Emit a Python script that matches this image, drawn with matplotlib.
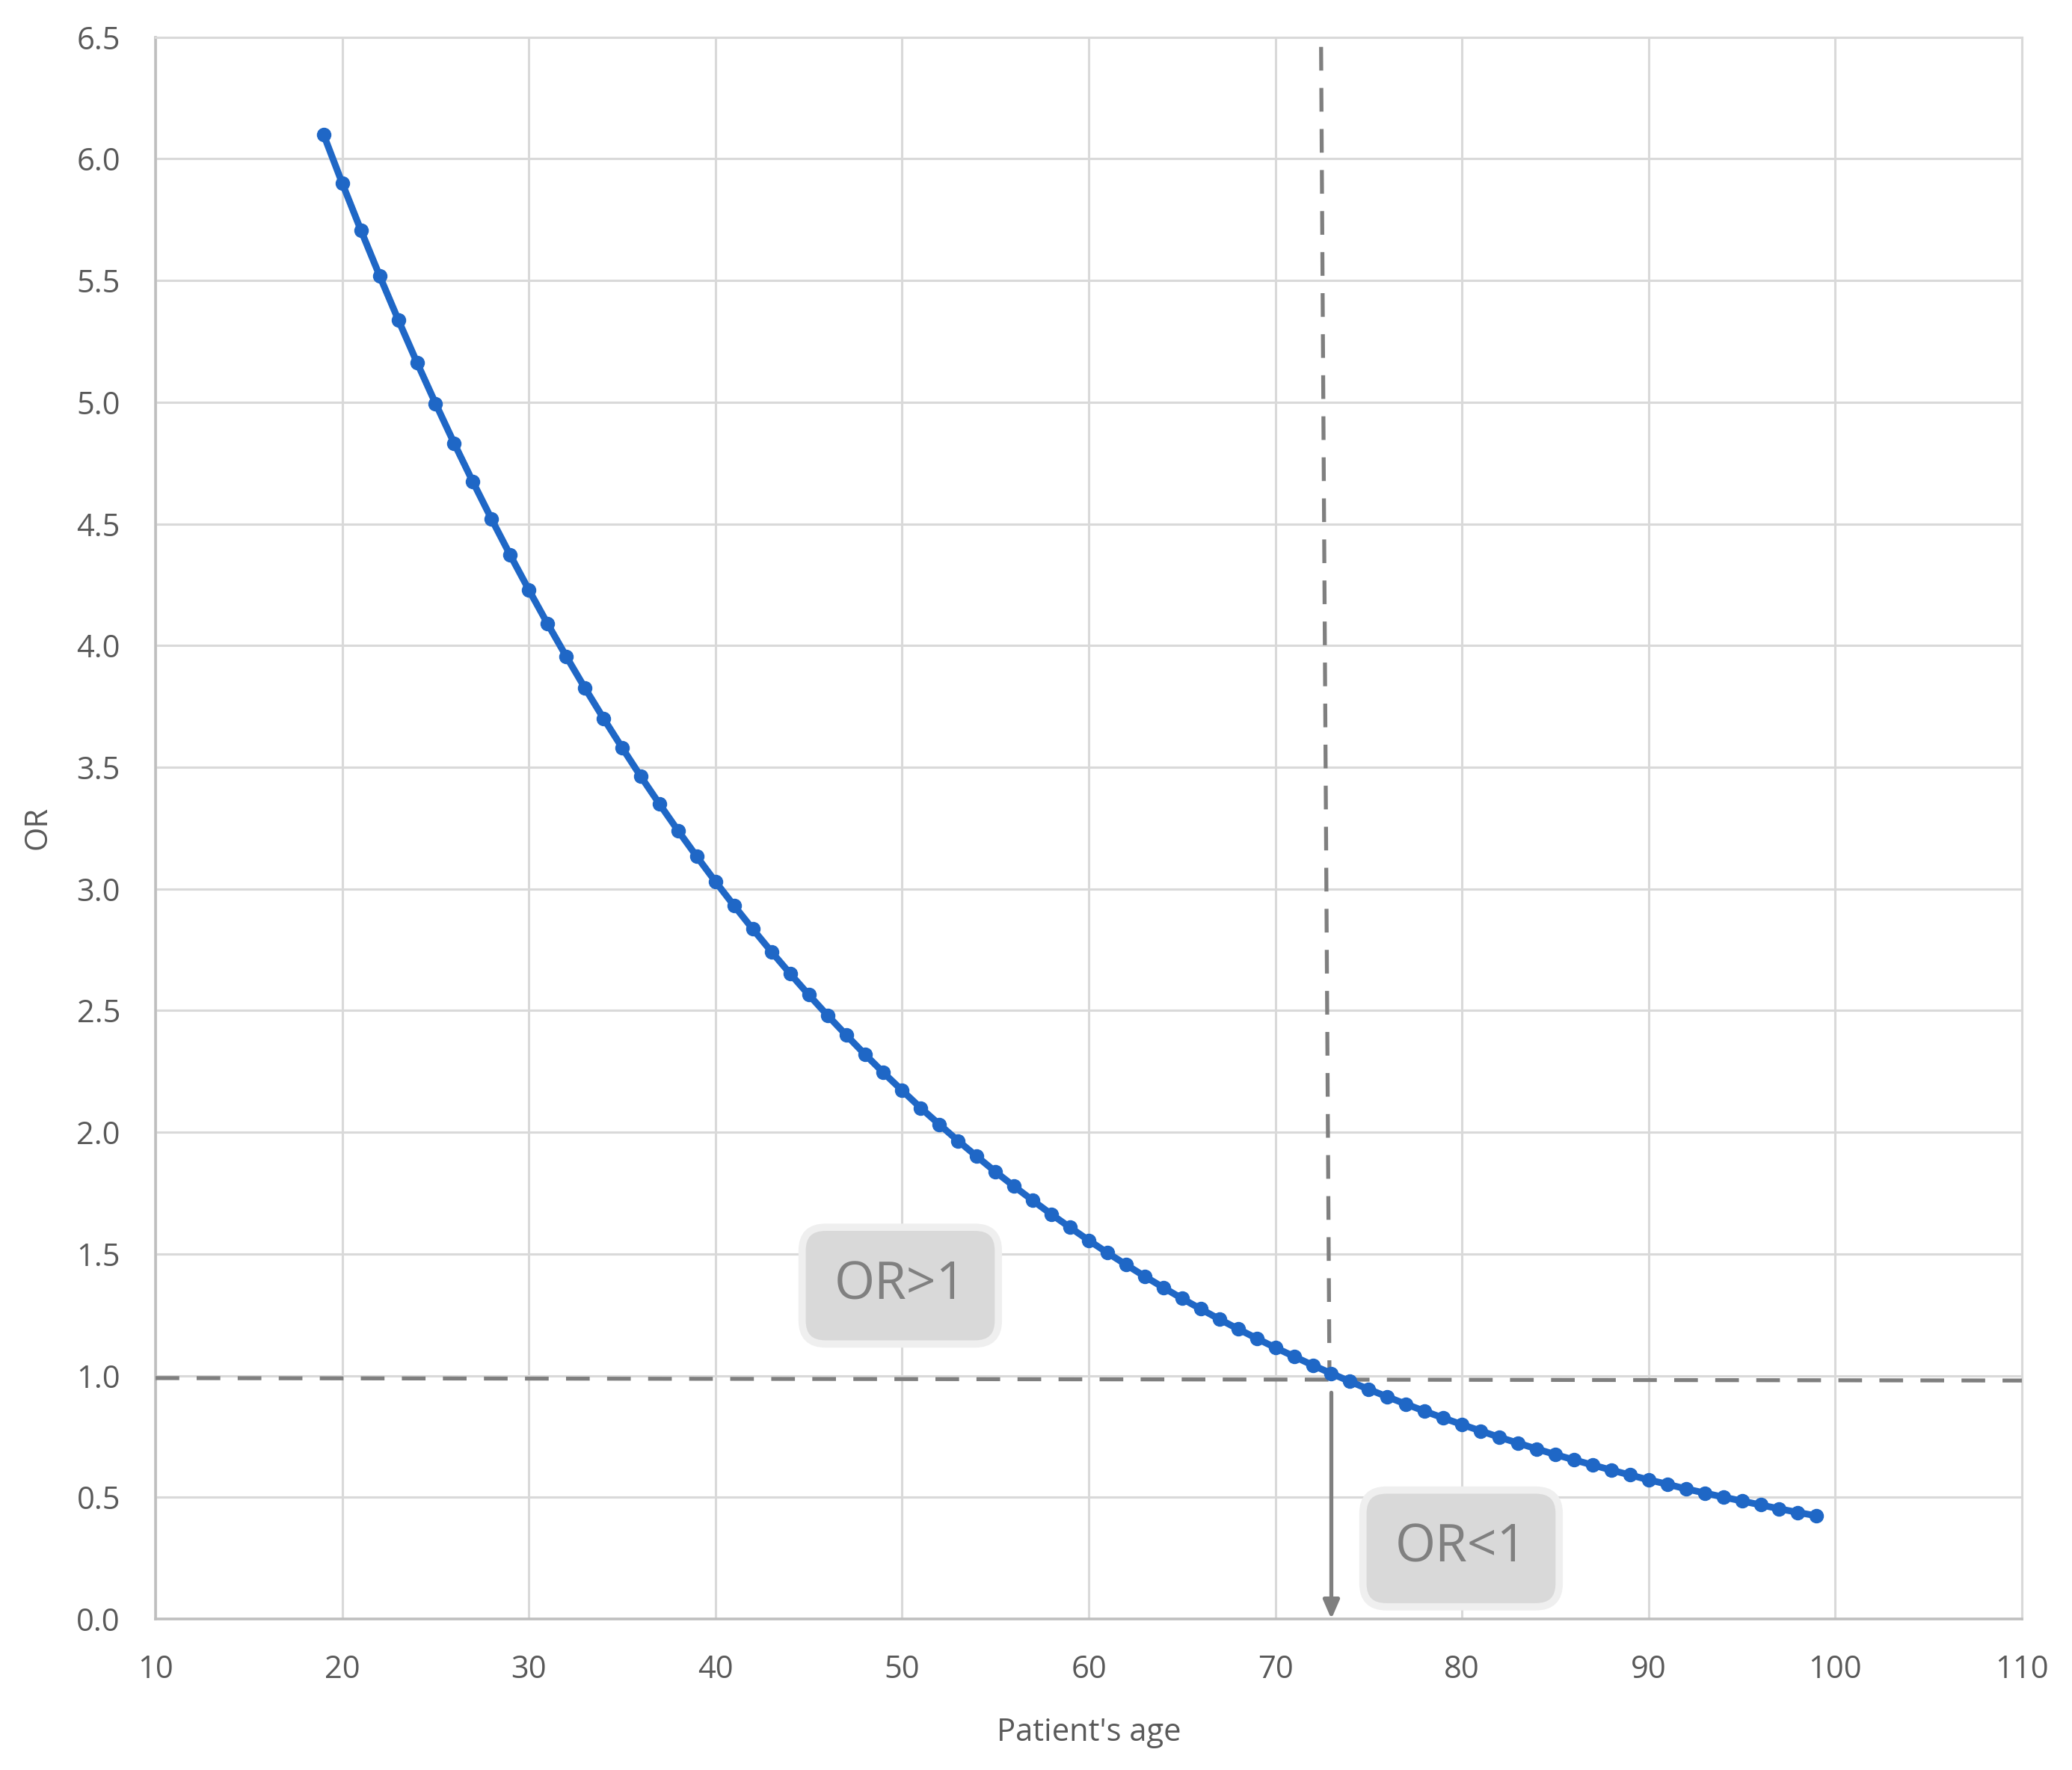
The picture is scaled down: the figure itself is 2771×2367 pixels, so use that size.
import matplotlib
matplotlib.use("Agg")
import matplotlib.pyplot as plt
import numpy as np

# patient age (one point per year) and odds ratio
ages = np.arange(19, 100)
odds_ratio = [
    6.100, 5.900, 5.707, 5.520, 5.339, 5.164, 4.995, 4.831, 4.673, 4.520,
    4.372, 4.229, 4.090, 3.956, 3.826, 3.701, 3.580, 3.462, 3.349, 3.239,
    3.133, 3.030, 2.931, 2.835, 2.742, 2.652, 2.565, 2.481, 2.400, 2.321,
    2.245, 2.172, 2.100, 2.032, 1.965, 1.901, 1.838, 1.778, 1.720, 1.663,
    1.609, 1.556, 1.505, 1.456, 1.408, 1.362, 1.317, 1.274, 1.232, 1.192,
    1.153, 1.115, 1.079, 1.043, 1.009, 0.976, 0.944, 0.913, 0.883, 0.854,
    0.826, 0.799, 0.773, 0.747, 0.723, 0.699, 0.676, 0.654, 0.633, 0.612,
    0.592, 0.572, 0.554, 0.535, 0.518, 0.501, 0.485, 0.469, 0.453, 0.438,
    0.424,
]

xticks = [10, 20, 30, 40, 50, 60, 70, 80, 90, 100, 110]
yticks = [0.0, 0.5, 1.0, 1.5, 2.0, 2.5, 3.0, 3.5, 4.0, 4.5, 5.0, 5.5, 6.0, 6.5]

# reference lines / annotations
or_line_x = [10, 110]
or_line_y = [0.99, 0.98]
cut_x = [72.45, 72.9]
cut_y = [6.46, 0.99]
arrow_x = 73.0
labels = ["OR>1", "OR<1"]
label_pos = [(49.9, 1.37), (79.95, 0.29)]

plt.rcParams['font.family'] = ['Open Sans', 'DejaVu Sans']

fig = plt.figure(figsize=(27.71, 23.67), dpi=100)
ax = fig.add_axes([0.0751, 0.0853, 0.9007, 0.8937])

grey = '#7f7f7f'
ax.plot(or_line_x, or_line_y, color=grey, lw=3.8, dashes=(6, 4.4), zorder=3)
ax.plot(cut_x, cut_y, color=grey, lw=3.8, dashes=(6, 4.4), zorder=3)
ax.annotate("", xy=(arrow_x, 0.0), xytext=(arrow_x, 0.93),
            arrowprops=dict(arrowstyle='-|>,head_length=1.5,head_width=0.65',
                            color=grey, lw=3.8, shrinkA=0, shrinkB=0),
            zorder=4)

ax.plot(ages, odds_ratio, color='#1f67c6', lw=6.5, marker='o', markersize=13,
        zorder=5)

for txt, (x, y) in zip(labels, label_pos):
    ax.text(x, y, txt, fontsize=50, color='#808080', ha='center', va='center',
            zorder=6,
            bbox=dict(boxstyle='round,pad=0.62,rounding_size=0.45',
                      fc='#d9d9d9', ec='#efefef', lw=7))

ax.set_xlim(10, 110)
ax.set_ylim(0, 6.5)
ax.set_xticks(xticks)
ax.set_yticks(yticks)
ax.set_yticklabels([f"{v:.1f}" for v in yticks])
ax.grid(True, color='#d9d9d9', lw=2.2)
ax.set_axisbelow(True)
ax.tick_params(length=0, labelsize=30, labelcolor='#595959')
ax.tick_params(axis='y', pad=34)
ax.tick_params(axis='x', pad=34)
for s in ['top', 'right']:
    ax.spines[s].set_color('#d9d9d9')
    ax.spines[s].set_linewidth(2.2)
for s in ['left', 'bottom']:
    ax.spines[s].set_color('#bfbfbf')
    ax.spines[s].set_linewidth(2.6)

ax.set_xlabel("Patient's age", fontsize=30, color='#595959', labelpad=30)
ax.set_ylabel("OR", fontsize=30, color='#595959', labelpad=22)

fig.savefig("out.png", dpi=100, facecolor='white')
